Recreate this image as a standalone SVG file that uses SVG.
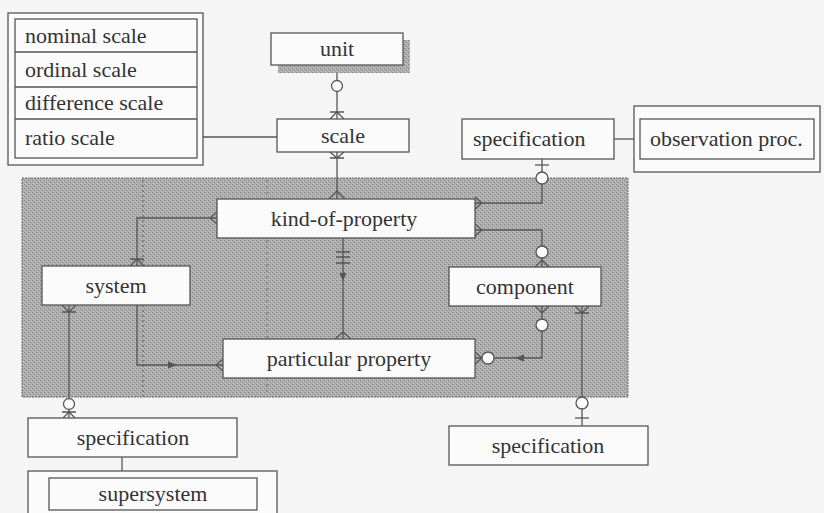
<svg xmlns="http://www.w3.org/2000/svg" width="824" height="513" viewBox="0 0 824 513" font-family="'Liberation Serif', 'DejaVu Serif', 'Times New Roman', serif">
<defs>
<pattern id="tex" width="4" height="4" patternUnits="userSpaceOnUse">
<rect width="4" height="4" fill="#adadad"/>
<rect x="0" y="0" width="1" height="1" fill="#808080"/>
<rect x="2" y="2" width="1" height="1" fill="#888888"/>
<rect x="1" y="3" width="1" height="1" fill="#cacaca"/>
<rect x="3" y="1" width="1" height="1" fill="#c6c6c6"/>
</pattern>
</defs>
<style>
text{font-family:'Liberation Serif','DejaVu Serif','Times New Roman',serif;font-size:22px;fill:#333}
.c{text-anchor:middle}
.box{fill:#fbfbfb;stroke:#555;stroke-width:1.3}
.ln{fill:none;stroke:#555;stroke-width:1.3}
.o{fill:#fbfbfb;stroke:#555;stroke-width:1.3}
.ah{fill:#555}
</style>
<rect width="824" height="513" fill="#f5f5f5"/>
<g id="background">
<rect x="22" y="178" width="606" height="219" fill="url(#tex)" stroke="#666" stroke-width="1" stroke-dasharray="2,1"/>
<line x1="143" y1="180" x2="143" y2="396" stroke="#555" stroke-width="1" stroke-dasharray="2,3"/>
<line x1="267" y1="180" x2="267" y2="396" stroke="#666" stroke-width="1" stroke-dasharray="2,4"/>
</g>
<g id="connectors">
<line class="ln" x1="203" y1="137" x2="277" y2="137"/>
<line class="ln" x1="337" y1="65" x2="337" y2="119"/>
<circle class="o" cx="337" cy="86" r="5.5"/>
<path class="ln" d="M330,112H344M337,112L330,119M337,112L344,119"/>
<line class="ln" x1="337" y1="152" x2="337" y2="199"/>
<path class="ln" d="M330,158H344M337,158L330,152M337,158L344,152"/>
<path class="ln" d="M337,191L329,199M337,191L345,199"/>
<line class="ln" x1="614" y1="139" x2="634" y2="139"/>
<path class="ln" d="M475,203H542V159"/>
<path class="ln" d="M535,165H549"/>
<circle class="o" cx="542" cy="178" r="6"/>
<path class="ln" d="M482,203L475,197M482,203L475,209"/>
<path class="ln" d="M475,230H542V267"/>
<circle class="o" cx="542" cy="252" r="6"/>
<path class="ln" d="M542,260L535,267M542,260L549,267"/>
<path class="ln" d="M482,230L475,224M482,230L475,236"/>
<path class="ln" d="M542,306V358H475"/>
<path class="ln" d="M542,313L535,306M542,313L549,306"/>
<circle class="o" cx="542" cy="325" r="6"/>
<circle class="o" cx="488" cy="358" r="6"/>
<path class="ln" d="M482,358L475,352M482,358L475,364"/>
<path class="ah" d="M515,358L524,354.5V361.5Z"/>
<line class="ln" x1="582" y1="306" x2="582" y2="426"/>
<path class="ln" d="M575,313H589M582,313L575,306M582,313L589,306"/>
<circle class="o" cx="582" cy="403" r="6"/>
<path class="ln" d="M575,418H589"/>
<path class="ln" d="M137,266V218H217"/>
<path class="ln" d="M210,218L217,212M210,218L217,224"/>
<path class="ln" d="M137,259L130,266M137,259L144,266M130,259H144"/>
<path class="ln" d="M137,305V365H223"/>
<path class="ln" d="M216,365L223,359M216,365L223,371"/>
<path class="ah" d="M177,365L168,361.5V368.5Z"/>
<line class="ln" x1="69" y1="305" x2="69" y2="418"/>
<path class="ln" d="M62,312H76M69,312L62,305M69,312L76,305"/>
<circle class="o" cx="69" cy="404" r="5.5"/>
<path class="ln" d="M62,412H76M69,412L63,418M69,412L75,418"/>
<line class="ln" x1="343" y1="238" x2="343" y2="339"/>
<path class="ln" d="M336,252H350M336,257H350M336,263H350"/>
<path class="ah" d="M343,281L339.5,273H346.5Z"/>
<path class="ln" d="M343,332L335,339M343,332L351,339"/>
<line class="ln" x1="122" y1="457" x2="122" y2="471"/>
</g>
<g id="scale-types">
<rect class="box" x="8" y="13" width="195" height="152"/>
<rect class="box" x="15" y="19" width="182" height="139"/>
<line class="ln" x1="15" y1="52" x2="197" y2="52"/>
<line class="ln" x1="15" y1="87" x2="197" y2="87"/>
<line class="ln" x1="15" y1="119" x2="197" y2="119"/>
<text x="25" y="43">nominal scale</text>
<text x="25" y="77">ordinal scale</text>
<text x="25" y="110">difference scale</text>
<text x="25" y="145">ratio scale</text>
</g>
<g id="unit">
<rect x="278" y="40" width="132" height="33" fill="url(#tex)"/>
<rect class="box" x="271" y="33" width="132" height="32"/>
<text class="c" x="337" y="56">unit</text>
</g>
<g id="scale">
<rect class="box" x="277" y="119" width="132" height="33"/>
<text class="c" x="343" y="143">scale</text>
</g>
<g id="specification-top">
<rect class="box" x="462" y="119" width="152" height="40"/>
<text x="473" y="146">specification</text>
</g>
<g id="observation-proc">
<rect class="box" x="634" y="106" width="186" height="66"/>
<rect class="box" x="640" y="119" width="174" height="40"/>
<text x="650" y="146">observation proc.</text>
</g>
<g id="kind-of-property">
<rect class="box" x="217" y="199" width="258" height="39"/>
<text class="c" x="344" y="226">kind-of-property</text>
</g>
<g id="system">
<rect class="box" x="42" y="266" width="148" height="39"/>
<text class="c" x="116" y="293">system</text>
</g>
<g id="component">
<rect class="box" x="449" y="267" width="152" height="39"/>
<text class="c" x="525" y="294">component</text>
</g>
<g id="particular-property">
<rect class="box" x="223" y="339" width="252" height="39"/>
<text class="c" x="349" y="366">particular property</text>
</g>
<g id="specification-left">
<rect class="box" x="28" y="418" width="209" height="39"/>
<text class="c" x="133" y="445">specification</text>
</g>
<g id="supersystem">
<rect class="box" x="28" y="471" width="249" height="50"/>
<rect class="box" x="49" y="478" width="208" height="32"/>
<text class="c" x="153" y="501">supersystem</text>
</g>
<g id="specification-right">
<rect class="box" x="449" y="426" width="199" height="39"/>
<text class="c" x="548" y="453">specification</text>
</g>
</svg>
